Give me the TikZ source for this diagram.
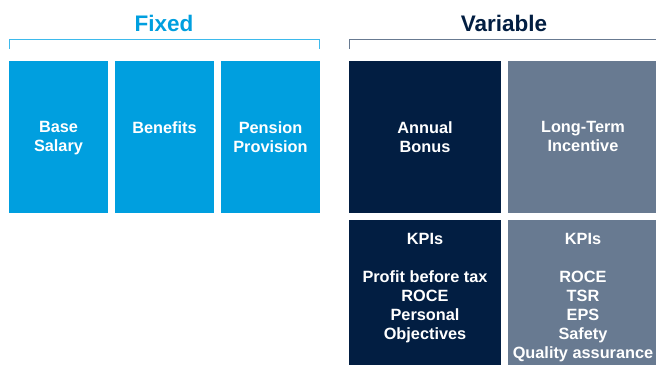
\documentclass[tikz,border=0pt]{standalone}
\usepackage{fontspec}
\setmainfont{Liberation Sans}
\definecolor{fixedblue}{HTML}{009FDF}
\definecolor{bracketblue}{HTML}{3DBAEC}
\definecolor{navy}{HTML}{021E42}
\definecolor{slate}{HTML}{687A91}
\begin{document}
\begin{tikzpicture}[x=1pt,y=-1pt,
  panel/.style={fill=#1, draw=none, inner sep=0pt, anchor=north west},
  caption/.style={text=white, font=\fontsize{16.3}{19}\selectfont\bfseries,
    align=center, anchor=north, inner sep=0pt},
  heading/.style={font=\fontsize{22.5}{25}\selectfont\bfseries, anchor=base, inner sep=0pt}]
\useasboundingbox (0,0) rectangle (656,365);

% headings
\node[heading, text=fixedblue] (fixedhead) at (164,31.7) {Fixed};
\node[heading, text=navy] (varhead) at (504,31.7) {Variable};

% brackets under the headings, drawn as thin filled bars
\fill[bracketblue] (9,38.8) rectangle (320,40.2);
\fill[bracketblue] (9,38.8) rectangle (10.4,49);
\fill[bracketblue] (318.6,38.8) rectangle (320,49);
\fill[slate] (349,38.8) rectangle (656,40.2);
\fill[slate] (349,38.8) rectangle (350.4,49);

% fixed elements
\node[panel=fixedblue, minimum width=99, minimum height=152] (base) at (9,61) {};
\node[panel=fixedblue, minimum width=99, minimum height=152] (benefits) at (115,61) {};
\node[panel=fixedblue, minimum width=99, minimum height=152] (pension) at (221,61) {};
\node[caption] (basetext) at (58.5,121.5) {Base\\Salary};
\node[caption] (benefitstext) at (164.5,121.5) {Benefits};
\node[caption] (pensiontext) at (270.5,121.5) {Pension\\Provision};

% variable elements
\node[panel=navy, minimum width=152, minimum height=152] (bonus) at (349,61) {};
\node[panel=slate, minimum width=148, minimum height=152] (ltip) at (508,61) {};
\node[caption] (bonustext) at (425,121.5) {Annual\\Bonus};
\node[caption] (ltiptext) at (583,121.5) {Long-Term\\Incentive};

% performance measures
\node[panel=navy, minimum width=152, minimum height=145] (bonuskpi) at (349,220) {};
\node[panel=slate, minimum width=148, minimum height=145] (ltipkpi) at (508,220) {};
\node[caption] (bonuskpitext) at (425,233.5) {KPIs\\[19pt]Profit before tax\\ROCE\\Personal\\Objectives};
\node[caption] (ltipkpitext) at (583,233.5) {KPIs\\[19pt]ROCE\\TSR\\EPS\\Safety\\Quality assurance};
\end{tikzpicture}
\end{document}
